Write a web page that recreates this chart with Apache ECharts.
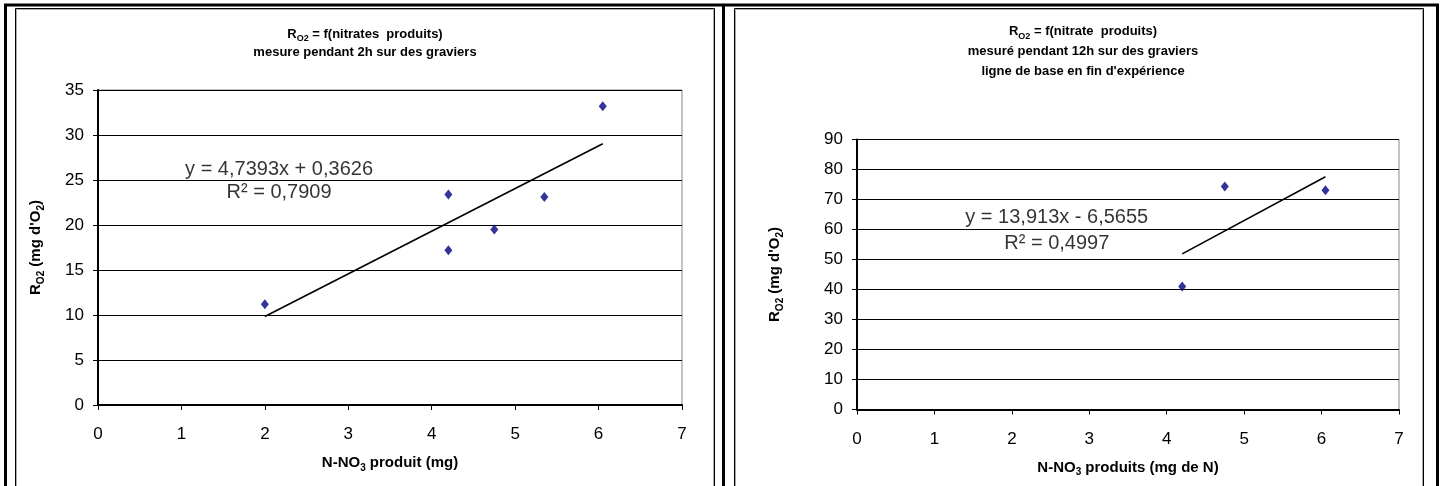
<!DOCTYPE html>
<html>
<head>
<meta charset="utf-8">
<script src="https://cdn.jsdelivr.net/npm/echarts@6/dist/echarts.min.js"></script>
<style>
html,body{margin:0;padding:0;background:#fff;}
#c{width:1442px;height:486px;}
</style>
</head>
<body>
<div id="c"></div>
<script>
// ---- data ----
const xTicks = [0, 1, 2, 3, 4, 5, 6, 7];
const leftX = [2.0, 4.2, 4.2, 4.75, 5.35, 6.05];
const leftY = [11.2, 23.4, 17.2, 19.5, 23.1, 33.2];
const leftFit = [4.7393, 0.3626];      // slope, intercept
const leftR2 = '0,7909';
const leftEq = 'y = 4,7393x + 0,3626';
const rightX = [4.2, 4.75, 6.05];
const rightY = [41.0, 74.3, 73.1];
const rightFit = [13.913, -6.5655];
const rightR2 = '0,4997';
const rightEq = 'y = 13,913x - 6,5655';
const leftYTicks = [0, 5, 10, 15, 20, 25, 30, 35];
const rightYTicks = [0, 10, 20, 30, 40, 50, 60, 70, 80, 90];

const FF = '"Liberation Sans", Arial, sans-serif';
const chart = echarts.init(document.getElementById('c'), null, {renderer: 'canvas'});

function pairs(xs, ys) { return xs.map((x, i) => [x, ys[i]]); }
function fitLine(xs, fit) {
  const x0 = Math.min(...xs), x1 = Math.max(...xs);
  return [[x0, fit[0] * x0 + fit[1]], [x1, fit[0] * x1 + fit[1]]];
}

function richSet(size, sub, lh) {
  return {
    b: {fontFamily: FF, fontSize: size, fontWeight: 'bold', color: '#000', lineHeight: lh},
    s: {fontFamily: FF, fontSize: sub, fontWeight: 'bold', color: '#000', lineHeight: sub, verticalAlign: 'bottom'}
  };
}
const titleRichL = richSet(13, 9, 18);
const titleRichR = richSet(13, 9, 20);
const axisRich = richSet(15, 10, 20);

function xAxisCfg(gridIndex, name) {
  return {
    type: 'value', gridIndex: gridIndex, min: 0, max: 7, interval: 1,
    axisLine: {show: true, onZero: false, lineStyle: {color: '#000', width: 2}},
    axisTick: {show: true, length: 5, lineStyle: {color: '#000', width: 1}},
    axisLabel: {color: '#000', fontFamily: FF, fontSize: 17, margin: 21},
    splitLine: {show: false},
    name: name, nameLocation: 'middle', nameGap: 48,
    nameTextStyle: {rich: axisRich}
  };
}
function yAxisCfg(gridIndex, max, interval, name, gap) {
  return {
    type: 'value', gridIndex: gridIndex, min: 0, max: max, interval: interval,
    axisLine: {show: true, onZero: false, lineStyle: {color: '#000', width: 2}},
    axisTick: {show: true, length: 5, lineStyle: {color: '#000', width: 1}},
    axisLabel: {color: '#000', fontFamily: FF, fontSize: 17, margin: 14},
    splitLine: {show: true, lineStyle: {color: '#000', width: 1}},
    name: name, nameLocation: 'middle', nameRotate: 90, nameGap: gap,
    nameTextStyle: {rich: axisRich}
  };
}

const eqLabel = {
  show: true, position: 'inside', color: '#000', fontFamily: FF, fontSize: 20,
  lineHeight: 23, align: 'center'
};

const option = {
  animation: false,
  backgroundColor: '#fff',
  grid: [
    {left: 98, top: 90, width: 584, height: 315, show: true, borderColor: '#888', borderWidth: 1, backgroundColor: 'transparent'},
    {left: 857, top: 139.5, width: 542, height: 270, show: true, borderColor: '#888', borderWidth: 1, backgroundColor: 'transparent'}
  ],
  xAxis: [
    xAxisCfg(0, '{b|N-NO}{s|3}{b| produit (mg)}'),
    xAxisCfg(1, '{b|N-NO}{s|3}{b| produits (mg de N)}')
  ],
  yAxis: [
    yAxisCfg(0, 35, 5, '{b|R}{s|O2}{b| (mg d\'O}{s|2}{b|)}', 52),
    yAxisCfg(1, 90, 10, '{b|R}{s|O2}{b| (mg d\'O}{s|2}{b|)}', 72)
  ],
  series: [
    {type: 'line', xAxisIndex: 0, yAxisIndex: 0, data: fitLine(leftX, leftFit), symbol: 'none',
     lineStyle: {color: '#000', width: 1.6}, z: 3},
    {type: 'scatter', xAxisIndex: 0, yAxisIndex: 0, data: pairs(leftX, leftY), symbol: 'diamond', symbolSize: [8, 10],
     itemStyle: {color: '#000080'}, z: 4},
    {type: 'scatter', xAxisIndex: 0, yAxisIndex: 0, symbolSize: 0,
     data: [{value: [2.17, 24.9], label: Object.assign({}, eqLabel, {formatter: leftEq + '\nR² = ' + leftR2})}], z: 5},
    {type: 'line', xAxisIndex: 1, yAxisIndex: 1, data: fitLine(rightX, rightFit), symbol: 'none',
     lineStyle: {color: '#000', width: 1.6}, z: 3},
    {type: 'scatter', xAxisIndex: 1, yAxisIndex: 1, data: pairs(rightX, rightY), symbol: 'diamond', symbolSize: [8, 10],
     itemStyle: {color: '#000080'}, z: 4},
    {type: 'scatter', xAxisIndex: 1, yAxisIndex: 1, symbolSize: 0,
     data: [{value: [2.58, 59.8], label: Object.assign({}, eqLabel, {lineHeight: 26, formatter: rightEq + '\nR² = ' + rightR2})}], z: 5}
  ],
  graphic: [
    // outer frame
    {type: 'line', shape: {x1: 4, y1: 5, x2: 1439, y2: 5}, style: {stroke: '#000', lineWidth: 3}},
    {type: 'line', shape: {x1: 5.5, y1: 4, x2: 5.5, y2: 486}, style: {stroke: '#000', lineWidth: 3}},
    {type: 'line', shape: {x1: 1437.5, y1: 4, x2: 1437.5, y2: 486}, style: {stroke: '#000', lineWidth: 3}},
    {type: 'line', shape: {x1: 723.5, y1: 4, x2: 723.5, y2: 486}, style: {stroke: '#000', lineWidth: 3}},
    // chart frames
    {type: 'rect', shape: {x: 15.5, y: 8.5, width: 699, height: 490}, style: {fill: 'none', stroke: '#000', lineWidth: 1}},
    {type: 'rect', shape: {x: 16.5, y: 9.5, width: 697, height: 490}, style: {fill: 'none', stroke: '#aaa', lineWidth: 1}},
    {type: 'rect', shape: {x: 734.5, y: 8.5, width: 689, height: 490}, style: {fill: 'none', stroke: '#000', lineWidth: 1}},
    {type: 'rect', shape: {x: 735.5, y: 9.5, width: 687, height: 490}, style: {fill: 'none', stroke: '#aaa', lineWidth: 1}},
    // titles
    {type: 'text', x: 365, y: 25, style: {
      text: '{b|R}{s|O2}{b| = f(nitrates  produits)}\n{b|mesure pendant 2h sur des graviers}',
      rich: titleRichL, align: 'center', verticalAlign: 'top'}},
    {type: 'text', x: 1083, y: 21, style: {
      text: '{b|R}{s|O2}{b| = f(nitrate  produits)}\n{b|mesuré pendant 12h sur des graviers}\n{b|ligne de base en fin d\'expérience}',
      rich: titleRichR, align: 'center', verticalAlign: 'top'}}
  ]
};
chart.setOption(option);
</script>
</body>
</html>
